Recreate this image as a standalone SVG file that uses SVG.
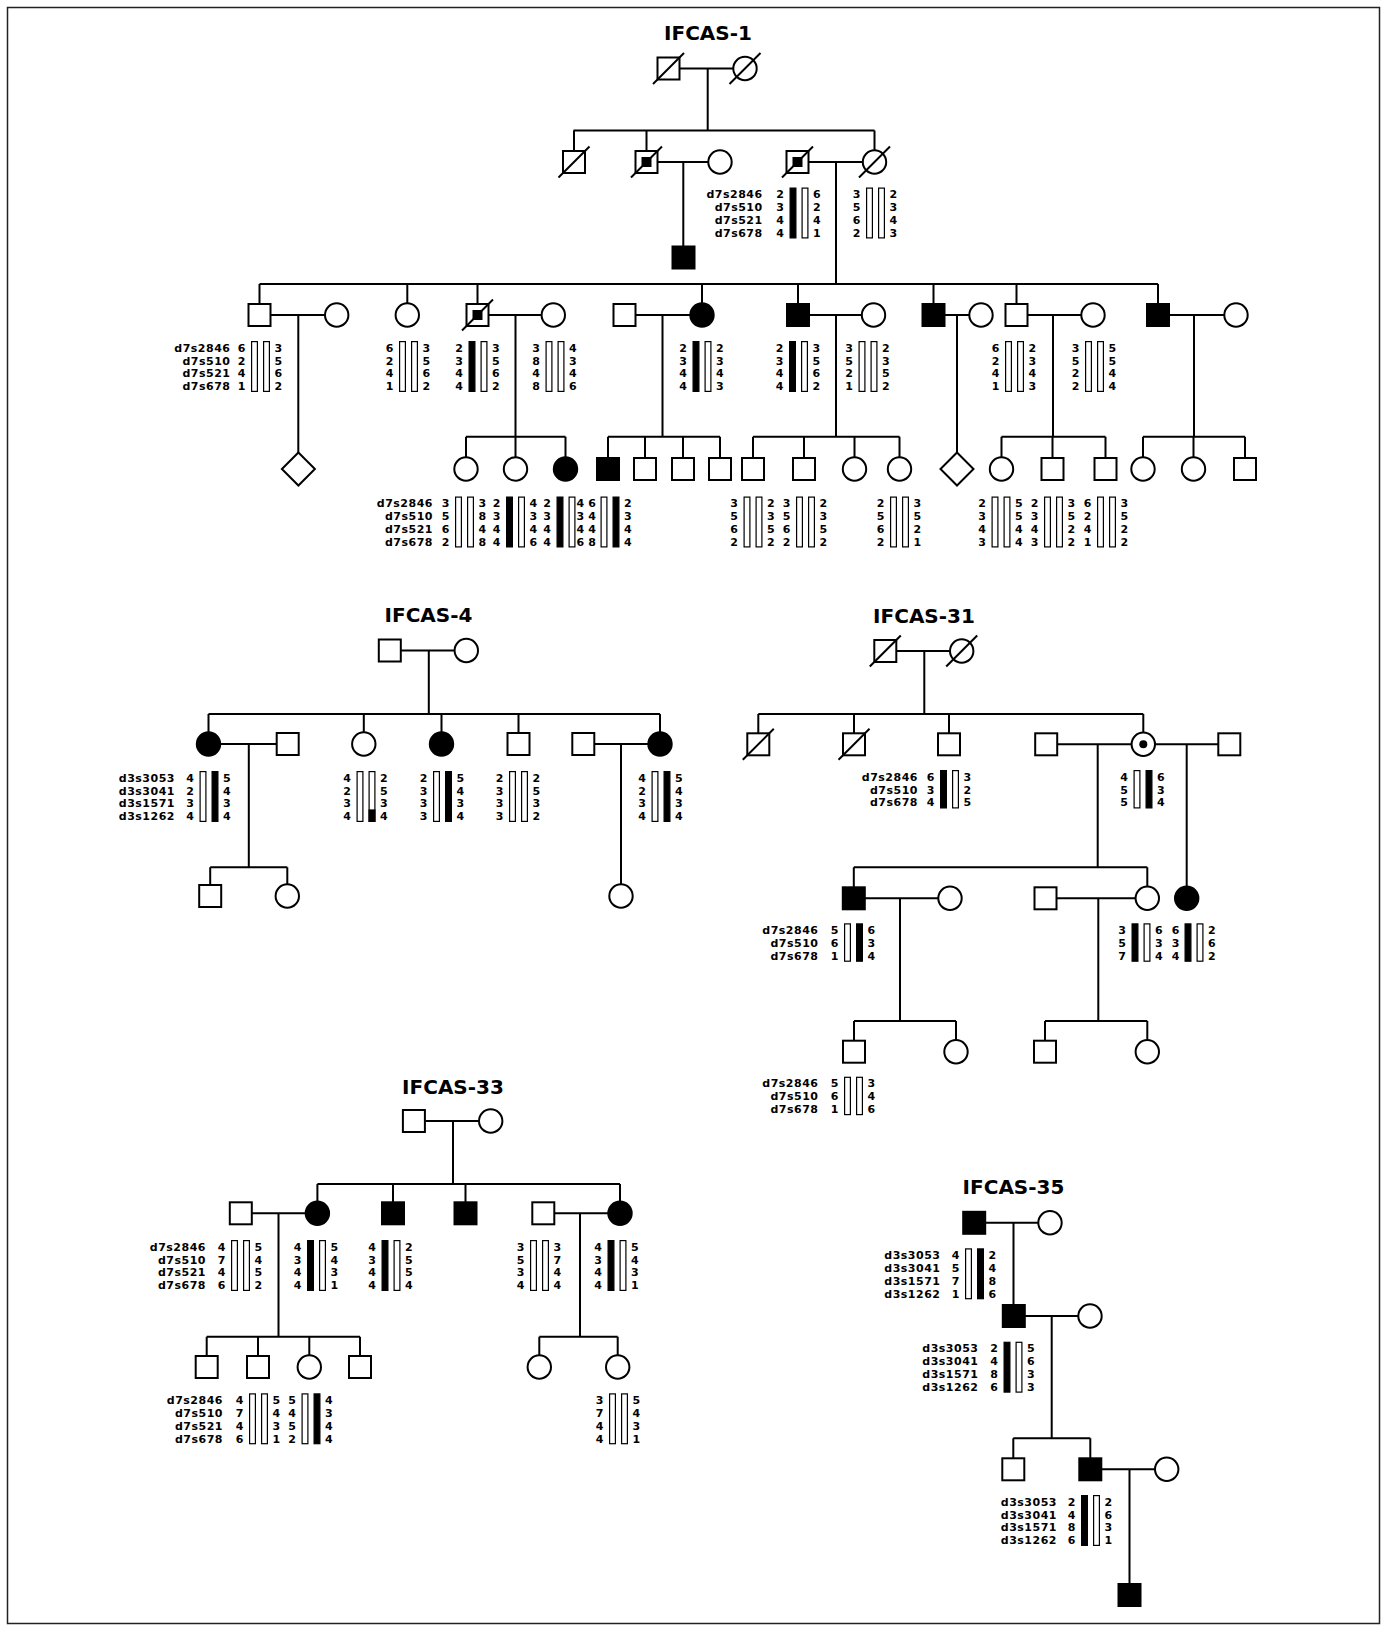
<svg xmlns="http://www.w3.org/2000/svg" width="1387" height="1630" viewBox="0 0 1387 1630">
<style>
.c{fill:none;stroke:#000;stroke-width:2}
.m{fill:#fff;stroke:#000;stroke-width:2}
.a{fill:#000}
.s{stroke:#000;stroke-width:2}
.bw{fill:#fff;stroke:#000;stroke-width:1.2}
.bb{fill:#000;stroke:#000;stroke-width:1.2}
text{font-family:"DejaVu Sans","Liberation Sans",sans-serif;font-weight:700;fill:#000}
.n{font-size:11px}
.e{text-anchor:end}
.lab{font-size:11px;text-anchor:end;letter-spacing:0.5px}
.ttl{font-size:20px;text-anchor:middle}
</style>
<rect x="7.5" y="7.5" width="1372" height="1616" fill="#fff" stroke="#222" stroke-width="1.5"/>

<g id="titles">
<text class="ttl" x="708" y="40">IFCAS-1</text>
<text class="ttl" x="428.5" y="622">IFCAS-4</text>
<text class="ttl" x="924" y="623.3">IFCAS-31</text>
<text class="ttl" x="453" y="1093.5">IFCAS-33</text>
<text class="ttl" x="1013.5" y="1194">IFCAS-35</text>
</g>

<g id="connectors" class="c">
<path d="M668.5 68.5H745M707.7 68.5V130.5M573.5 130.5H874.5M574 130.5V162M646.5 130.5V162M874.5 130.5V162M646.5 162H720M683.3 162V257.5M797.5 162H874.5M836 162V284"/>
<path d="M259.5 284H1158M259.5 284V315M407.3 284V315M477.5 284V315M702 284V315M798 284V315M933.5 284V315M1016.5 284V315M1158 284V315"/>
<path d="M259.5 315H336.7M477.5 315H553.3M624.5 315H702M798 315H873.5M933.5 315H981M1016.5 315H1093M1158 315H1236"/>
<path d="M298.3 315V469M515.5 315V436.7M662.5 315V436.7M836 315V436.7M957 315V469M1053 315V436.7M1194 315V436.7"/>
<path d="M466 436.7H565.5M608 436.7H720M753 436.7H899.5M1001.5 436.7H1105.5M1143 436.7H1245"/>
<path d="M466 436.7V469M515.5 436.7V469M565.5 436.7V469M608 436.7V469M645 436.7V469M683 436.7V469M720 436.7V469M753 436.7V469M804 436.7V469M854.5 436.7V469M899.5 436.7V469M1001.5 436.7V469M1052.5 436.7V469M1105.5 436.7V469M1143 436.7V469M1193.5 436.7V469M1245 436.7V469"/>
<path d="M389.8 650.5H466.3M428.8 650.5V714M208.5 714H660M208.5 714V744M363.8 714V744M441.5 714V744M518.5 714V744M660 714V744M208.5 744H287.7M248.8 744V867.3M210.2 867.3H287.3M210.2 867.3V896M287.3 867.3V896M583.3 744H660M621 744V896"/>
<path d="M885.3 651H961.7M924.3 651V714M758.3 714H1143.3M758.3 714V744.3M854 714V744.3M949 714V744.3M1143.3 714V744.3M1046.2 744.3H1229.3M1097.7 744.3V867.3M1186.7 744.3V898.3M853.8 867.3H1147.3M853.8 867.3V898.3M1147.3 867.3V898.3M853.8 898.3H950M900 898.3V1021M1045.5 898.3H1147.3M1098.3 898.3V1021M854 1021H956M854 1021V1051.7M956 1021V1051.7M1045 1021H1147.3M1045 1021V1051.7M1147.3 1021V1051.7"/>
<path d="M413.9 1121H490.7M453 1121V1184M317.4 1184H620M317.4 1184V1213.3M393 1184V1213.3M465.5 1184V1213.3M620 1184V1213.3M240.8 1213.3H317.4M278.5 1213.3V1336.7M206.7 1336.7H360M206.7 1336.7V1367M258 1336.7V1367M309.3 1336.7V1367M360 1336.7V1367M543.3 1213.3H620M580 1213.3V1336.7M539.3 1336.7H617.7M539.3 1336.7V1367M617.7 1336.7V1367"/>
<path d="M974.2 1222.7H1050M1013.5 1222.7V1316M1013.8 1316H1090M1051.7 1316V1438.3M1013.3 1438.3H1090.3M1013.3 1438.3V1469.3M1090.3 1438.3V1469.3M1090.3 1469.3H1166.7M1129.5 1469.3V1595"/>
</g>

<!-- IFCAS-1 -->
<g id="f1-I1"><rect class="m" x="657.5" y="57.5" width="22" height="22"/><line class="s" x1="653" y1="84" x2="684" y2="53"/></g>
<g id="f1-I2"><circle class="m" cx="745" cy="68.5" r="11.7"/><line class="s" x1="729.5" y1="84" x2="760.5" y2="53"/></g>
<g id="f1-II1"><rect class="m" x="563" y="151" width="22" height="22"/><line class="s" x1="558.5" y1="177.5" x2="589.5" y2="146.5"/></g>
<g id="f1-II2"><rect class="m" x="635.5" y="151" width="22" height="22"/><rect class="a" x="641.5" y="157" width="10" height="10"/><line class="s" x1="631" y1="177.5" x2="662" y2="146.5"/></g>
<g id="f1-II2s"><circle class="m" cx="720" cy="162" r="11.7"/></g>
<g id="f1-II3s"><rect class="m" x="786.5" y="151" width="22" height="22"/><rect class="a" x="792.5" y="157" width="10" height="10"/><line class="s" x1="782" y1="177.5" x2="813" y2="146.5"/>
<g id="hap-f1-II3s">
<text class="lab"><tspan x="762.7" y="198.1">d7s2846</tspan><tspan x="762.7" y="211">d7s510</tspan><tspan x="762.7" y="223.9">d7s521</tspan><tspan x="762.7" y="236.8">d7s678</tspan></text>
<text class="n e"><tspan x="784" y="198.1">2</tspan><tspan x="784" y="211">3</tspan><tspan x="784" y="223.9">4</tspan><tspan x="784" y="236.8">4</tspan></text>
<rect class="bb" x="790.1" y="188.1" width="5.8" height="49.8"/><rect class="bw" x="802.1" y="188.1" width="5.8" height="49.8"/>
<text class="n"><tspan x="813" y="198.1">6</tspan><tspan x="813" y="211">2</tspan><tspan x="813" y="223.9">4</tspan><tspan x="813" y="236.8">1</tspan></text>
</g></g>
<g id="f1-II4"><circle class="m" cx="874.5" cy="162" r="11.7"/><line class="s" x1="859" y1="177.5" x2="890" y2="146.5"/>
<g id="hap-f1-II4">
<text class="n e"><tspan x="860.5" y="198.1">3</tspan><tspan x="860.5" y="211">5</tspan><tspan x="860.5" y="223.9">6</tspan><tspan x="860.5" y="236.8">2</tspan></text>
<rect class="bw" x="866.6" y="188.1" width="5.8" height="49.8"/><rect class="bw" x="878.6" y="188.1" width="5.8" height="49.8"/>
<text class="n"><tspan x="889.5" y="198.1">2</tspan><tspan x="889.5" y="211">3</tspan><tspan x="889.5" y="223.9">4</tspan><tspan x="889.5" y="236.8">3</tspan></text>
</g></g>
<g id="f1-IIIc1"><rect class="m a" x="672.5" y="246.5" width="22" height="22"/></g>

<g id="f1-A"><rect class="m" x="248.5" y="304" width="22" height="22"/>
<text class="lab"><tspan x="230.5" y="351.6">d7s2846</tspan><tspan x="230.5" y="364.5">d7s510</tspan><tspan x="230.5" y="377.4">d7s521</tspan><tspan x="230.5" y="390.3">d7s678</tspan></text>
<text class="n e"><tspan x="245.5" y="351.6">6</tspan><tspan x="245.5" y="364.5">2</tspan><tspan x="245.5" y="377.4">4</tspan><tspan x="245.5" y="390.3">1</tspan></text>
<rect class="bw" x="251.6" y="341.6" width="5.8" height="49.8"/><rect class="bw" x="263.6" y="341.6" width="5.8" height="49.8"/>
<text class="n"><tspan x="274.5" y="351.6">3</tspan><tspan x="274.5" y="364.5">5</tspan><tspan x="274.5" y="377.4">6</tspan><tspan x="274.5" y="390.3">2</tspan></text>
</g>
<g id="f1-B"><circle class="m" cx="336.7" cy="315" r="11.7"/></g>
<g id="f1-C"><circle class="m" cx="407.3" cy="315" r="11.7"/>
<text class="n e"><tspan x="393.5" y="351.6">6</tspan><tspan x="393.5" y="364.5">2</tspan><tspan x="393.5" y="377.4">4</tspan><tspan x="393.5" y="390.3">1</tspan></text>
<rect class="bw" x="399.6" y="341.6" width="5.8" height="49.8"/><rect class="bw" x="411.6" y="341.6" width="5.8" height="49.8"/>
<text class="n"><tspan x="422.5" y="351.6">3</tspan><tspan x="422.5" y="364.5">5</tspan><tspan x="422.5" y="377.4">6</tspan><tspan x="422.5" y="390.3">2</tspan></text>
</g>
<g id="f1-D"><rect class="m" x="466.5" y="304" width="22" height="22"/><rect class="a" x="472.5" y="310" width="10" height="10"/><line class="s" x1="462" y1="330.5" x2="493" y2="299.5"/>
<text class="n e"><tspan x="463" y="351.6">2</tspan><tspan x="463" y="364.5">3</tspan><tspan x="463" y="377.4">4</tspan><tspan x="463" y="390.3">4</tspan></text>
<rect class="bb" x="469.1" y="341.6" width="5.8" height="49.8"/><rect class="bw" x="481.1" y="341.6" width="5.8" height="49.8"/>
<text class="n"><tspan x="492" y="351.6">3</tspan><tspan x="492" y="364.5">5</tspan><tspan x="492" y="377.4">6</tspan><tspan x="492" y="390.3">2</tspan></text>
</g>
<g id="f1-E"><circle class="m" cx="553.3" cy="315" r="11.7"/>
<text class="n e"><tspan x="540" y="351.6">3</tspan><tspan x="540" y="364.5">8</tspan><tspan x="540" y="377.4">4</tspan><tspan x="540" y="390.3">8</tspan></text>
<rect class="bw" x="546.1" y="341.6" width="5.8" height="49.8"/><rect class="bw" x="558.1" y="341.6" width="5.8" height="49.8"/>
<text class="n"><tspan x="569" y="351.6">4</tspan><tspan x="569" y="364.5">3</tspan><tspan x="569" y="377.4">4</tspan><tspan x="569" y="390.3">6</tspan></text>
</g>
<g id="f1-F"><rect class="m" x="613.5" y="304" width="22" height="22"/></g>
<g id="f1-G"><circle class="m a" cx="702" cy="315" r="11.7"/>
<text class="n e"><tspan x="687" y="351.6">2</tspan><tspan x="687" y="364.5">3</tspan><tspan x="687" y="377.4">4</tspan><tspan x="687" y="390.3">4</tspan></text>
<rect class="bb" x="693.1" y="341.6" width="5.8" height="49.8"/><rect class="bw" x="705.1" y="341.6" width="5.8" height="49.8"/>
<text class="n"><tspan x="716" y="351.6">2</tspan><tspan x="716" y="364.5">3</tspan><tspan x="716" y="377.4">4</tspan><tspan x="716" y="390.3">3</tspan></text>
</g>
<g id="f1-H"><rect class="m a" x="787" y="304" width="22" height="22"/>
<text class="n e"><tspan x="783.5" y="351.6">2</tspan><tspan x="783.5" y="364.5">3</tspan><tspan x="783.5" y="377.4">4</tspan><tspan x="783.5" y="390.3">4</tspan></text>
<rect class="bb" x="789.6" y="341.6" width="5.8" height="49.8"/><rect class="bw" x="801.6" y="341.6" width="5.8" height="49.8"/>
<text class="n"><tspan x="812.5" y="351.6">3</tspan><tspan x="812.5" y="364.5">5</tspan><tspan x="812.5" y="377.4">6</tspan><tspan x="812.5" y="390.3">2</tspan></text>
</g>
<g id="f1-I"><circle class="m" cx="873.5" cy="315" r="11.7"/>
<text class="n e"><tspan x="853" y="351.6">3</tspan><tspan x="853" y="364.5">5</tspan><tspan x="853" y="377.4">2</tspan><tspan x="853" y="390.3">1</tspan></text>
<rect class="bw" x="859.1" y="341.6" width="5.8" height="49.8"/><rect class="bw" x="871.1" y="341.6" width="5.8" height="49.8"/>
<text class="n"><tspan x="882" y="351.6">2</tspan><tspan x="882" y="364.5">3</tspan><tspan x="882" y="377.4">5</tspan><tspan x="882" y="390.3">2</tspan></text>
</g>
<g id="f1-J"><rect class="m a" x="922.5" y="304" width="22" height="22"/></g>
<g id="f1-K"><circle class="m" cx="981" cy="315" r="11.7"/></g>
<g id="f1-L"><rect class="m" x="1005.5" y="304" width="22" height="22"/>
<text class="n e"><tspan x="999.5" y="351.6">6</tspan><tspan x="999.5" y="364.5">2</tspan><tspan x="999.5" y="377.4">4</tspan><tspan x="999.5" y="390.3">1</tspan></text>
<rect class="bw" x="1005.6" y="341.6" width="5.8" height="49.8"/><rect class="bw" x="1017.6" y="341.6" width="5.8" height="49.8"/>
<text class="n"><tspan x="1028.5" y="351.6">2</tspan><tspan x="1028.5" y="364.5">3</tspan><tspan x="1028.5" y="377.4">4</tspan><tspan x="1028.5" y="390.3">3</tspan></text>
</g>
<g id="f1-M"><circle class="m" cx="1093" cy="315" r="11.7"/>
<text class="n e"><tspan x="1079.5" y="351.6">3</tspan><tspan x="1079.5" y="364.5">5</tspan><tspan x="1079.5" y="377.4">2</tspan><tspan x="1079.5" y="390.3">2</tspan></text>
<rect class="bw" x="1085.6" y="341.6" width="5.8" height="49.8"/><rect class="bw" x="1097.6" y="341.6" width="5.8" height="49.8"/>
<text class="n"><tspan x="1108.5" y="351.6">5</tspan><tspan x="1108.5" y="364.5">5</tspan><tspan x="1108.5" y="377.4">4</tspan><tspan x="1108.5" y="390.3">4</tspan></text>
</g>
<g id="f1-N"><rect class="m a" x="1147" y="304" width="22" height="22"/></g>
<g id="f1-O"><circle class="m" cx="1236" cy="315" r="11.7"/></g>

<g id="f1-IV1"><polygon class="m" points="298.4,452.5 314.9,469 298.4,485.5 281.9,469"/></g>
<g id="f1-IV2"><circle class="m" cx="466" cy="469" r="11.7"/>
<text class="lab"><tspan x="433" y="507.1">d7s2846</tspan><tspan x="433" y="520">d7s510</tspan><tspan x="433" y="532.9">d7s521</tspan><tspan x="433" y="545.8">d7s678</tspan></text>
<text class="n e"><tspan x="449.5" y="507.1">3</tspan><tspan x="449.5" y="520">5</tspan><tspan x="449.5" y="532.9">6</tspan><tspan x="449.5" y="545.8">2</tspan></text>
<rect class="bw" x="455.6" y="497.1" width="5.8" height="49.8"/><rect class="bw" x="467.6" y="497.1" width="5.8" height="49.8"/>
<text class="n"><tspan x="478.5" y="507.1">3</tspan><tspan x="478.5" y="520">8</tspan><tspan x="478.5" y="532.9">4</tspan><tspan x="478.5" y="545.8">8</tspan></text>
</g>
<g id="f1-IV3"><circle class="m" cx="515.5" cy="469" r="11.7"/>
<text class="n e"><tspan x="500.5" y="507.1">2</tspan><tspan x="500.5" y="520">3</tspan><tspan x="500.5" y="532.9">4</tspan><tspan x="500.5" y="545.8">4</tspan></text>
<rect class="bb" x="506.6" y="497.1" width="5.8" height="49.8"/><rect class="bw" x="518.6" y="497.1" width="5.8" height="49.8"/>
<text class="n"><tspan x="529.5" y="507.1">4</tspan><tspan x="529.5" y="520">3</tspan><tspan x="529.5" y="532.9">4</tspan><tspan x="529.5" y="545.8">6</tspan></text>
</g>
<g id="f1-IV4"><circle class="m a" cx="565.5" cy="469" r="11.7"/>
<text class="n e"><tspan x="551" y="507.1">2</tspan><tspan x="551" y="520">3</tspan><tspan x="551" y="532.9">4</tspan><tspan x="551" y="545.8">4</tspan></text>
<rect class="bb" x="557.1" y="497.1" width="5.8" height="49.8"/><rect class="bw" x="569.1" y="497.1" width="5.8" height="49.8"/>
<text class="n"><tspan x="576.5" y="507.1">4</tspan><tspan x="576.5" y="520">3</tspan><tspan x="576.5" y="532.9">4</tspan><tspan x="576.5" y="545.8">6</tspan></text>
</g>
<g id="f1-IV5"><rect class="m a" x="597" y="458" width="22" height="22"/>
<text class="n e"><tspan x="596" y="507.1">6</tspan><tspan x="596" y="520">4</tspan><tspan x="596" y="532.9">4</tspan><tspan x="596" y="545.8">8</tspan></text>
<rect class="bw" x="601.1" y="497.1" width="5.8" height="49.8"/><rect class="bb" x="613.1" y="497.1" width="5.8" height="49.8"/>
<text class="n"><tspan x="624" y="507.1">2</tspan><tspan x="624" y="520">3</tspan><tspan x="624" y="532.9">4</tspan><tspan x="624" y="545.8">4</tspan></text>
</g>
<g id="f1-IV6"><rect class="m" x="634" y="458" width="22" height="22"/></g>
<g id="f1-IV7"><rect class="m" x="672" y="458" width="22" height="22"/></g>
<g id="f1-IV8"><rect class="m" x="709" y="458" width="22" height="22"/></g>
<g id="f1-IV9"><rect class="m" x="742" y="458" width="22" height="22"/>
<text class="n e"><tspan x="738" y="507.1">3</tspan><tspan x="738" y="520">5</tspan><tspan x="738" y="532.9">6</tspan><tspan x="738" y="545.8">2</tspan></text>
<rect class="bw" x="744.1" y="497.1" width="5.8" height="49.8"/><rect class="bw" x="756.1" y="497.1" width="5.8" height="49.8"/>
<text class="n"><tspan x="767" y="507.1">2</tspan><tspan x="767" y="520">3</tspan><tspan x="767" y="532.9">5</tspan><tspan x="767" y="545.8">2</tspan></text>
</g>
<g id="f1-IV10"><rect class="m" x="793" y="458" width="22" height="22"/>
<text class="n e"><tspan x="790.5" y="507.1">3</tspan><tspan x="790.5" y="520">5</tspan><tspan x="790.5" y="532.9">6</tspan><tspan x="790.5" y="545.8">2</tspan></text>
<rect class="bw" x="796.6" y="497.1" width="5.8" height="49.8"/><rect class="bw" x="808.6" y="497.1" width="5.8" height="49.8"/>
<text class="n"><tspan x="819.5" y="507.1">2</tspan><tspan x="819.5" y="520">3</tspan><tspan x="819.5" y="532.9">5</tspan><tspan x="819.5" y="545.8">2</tspan></text>
</g>
<g id="f1-IV11"><circle class="m" cx="854.5" cy="469" r="11.7"/></g>
<g id="f1-IV12"><circle class="m" cx="899.5" cy="469" r="11.7"/>
<text class="n e"><tspan x="884.5" y="507.1">2</tspan><tspan x="884.5" y="520">5</tspan><tspan x="884.5" y="532.9">6</tspan><tspan x="884.5" y="545.8">2</tspan></text>
<rect class="bw" x="890.6" y="497.1" width="5.8" height="49.8"/><rect class="bw" x="902.6" y="497.1" width="5.8" height="49.8"/>
<text class="n"><tspan x="913.5" y="507.1">3</tspan><tspan x="913.5" y="520">5</tspan><tspan x="913.5" y="532.9">2</tspan><tspan x="913.5" y="545.8">1</tspan></text>
</g>
<g id="f1-IV13"><polygon class="m" points="957,452.5 973.5,469 957,485.5 940.5,469"/></g>
<g id="f1-IV14"><circle class="m" cx="1001.5" cy="469" r="11.7"/>
<text class="n e"><tspan x="986" y="507.1">2</tspan><tspan x="986" y="520">3</tspan><tspan x="986" y="532.9">4</tspan><tspan x="986" y="545.8">3</tspan></text>
<rect class="bw" x="992.1" y="497.1" width="5.8" height="49.8"/><rect class="bw" x="1004.1" y="497.1" width="5.8" height="49.8"/>
<text class="n"><tspan x="1015" y="507.1">5</tspan><tspan x="1015" y="520">5</tspan><tspan x="1015" y="532.9">4</tspan><tspan x="1015" y="545.8">4</tspan></text>
</g>
<g id="f1-IV15"><rect class="m" x="1041.5" y="458" width="22" height="22"/>
<text class="n e"><tspan x="1038.5" y="507.1">2</tspan><tspan x="1038.5" y="520">3</tspan><tspan x="1038.5" y="532.9">4</tspan><tspan x="1038.5" y="545.8">3</tspan></text>
<rect class="bw" x="1044.6" y="497.1" width="5.8" height="49.8"/><rect class="bw" x="1056.6" y="497.1" width="5.8" height="49.8"/>
<text class="n"><tspan x="1067.5" y="507.1">3</tspan><tspan x="1067.5" y="520">5</tspan><tspan x="1067.5" y="532.9">2</tspan><tspan x="1067.5" y="545.8">2</tspan></text>
</g>
<g id="f1-IV16"><rect class="m" x="1094.5" y="458" width="22" height="22"/>
<text class="n e"><tspan x="1091.5" y="507.1">6</tspan><tspan x="1091.5" y="520">2</tspan><tspan x="1091.5" y="532.9">4</tspan><tspan x="1091.5" y="545.8">1</tspan></text>
<rect class="bw" x="1097.6" y="497.1" width="5.8" height="49.8"/><rect class="bw" x="1109.6" y="497.1" width="5.8" height="49.8"/>
<text class="n"><tspan x="1120.5" y="507.1">3</tspan><tspan x="1120.5" y="520">5</tspan><tspan x="1120.5" y="532.9">2</tspan><tspan x="1120.5" y="545.8">2</tspan></text>
</g>
<g id="f1-IV17"><circle class="m" cx="1143" cy="469" r="11.7"/></g>
<g id="f1-IV18"><circle class="m" cx="1193.5" cy="469" r="11.7"/></g>
<g id="f1-IV19"><rect class="m" x="1234" y="458" width="22" height="22"/></g>

<!-- IFCAS-4 -->
<g id="f4-I1"><rect class="m" x="378.8" y="639.5" width="22" height="22"/></g>
<g id="f4-I2"><circle class="m" cx="466.3" cy="650.5" r="11.7"/></g>
<g id="f4-II1"><circle class="m a" cx="208.5" cy="744" r="11.7"/>
<text class="lab"><tspan x="175" y="781.6">d3s3053</tspan><tspan x="175" y="794.5">d3s3041</tspan><tspan x="175" y="807.4">d3s1571</tspan><tspan x="175" y="820.3">d3s1262</tspan></text>
<text class="n e"><tspan x="194" y="781.6">4</tspan><tspan x="194" y="794.5">2</tspan><tspan x="194" y="807.4">3</tspan><tspan x="194" y="820.3">4</tspan></text>
<rect class="bw" x="200.1" y="771.6" width="5.8" height="49.8"/><rect class="bb" x="212.1" y="771.6" width="5.8" height="49.8"/>
<text class="n"><tspan x="223" y="781.6">5</tspan><tspan x="223" y="794.5">4</tspan><tspan x="223" y="807.4">3</tspan><tspan x="223" y="820.3">4</tspan></text>
</g>
<g id="f4-II1s"><rect class="m" x="276.7" y="733" width="22" height="22"/></g>
<g id="f4-II2"><circle class="m" cx="363.8" cy="744" r="11.7"/>
<text class="n e"><tspan x="351" y="781.6">4</tspan><tspan x="351" y="794.5">2</tspan><tspan x="351" y="807.4">3</tspan><tspan x="351" y="820.3">4</tspan></text>
<rect class="bw" x="357.1" y="771.6" width="5.8" height="49.8"/><rect class="bw" x="369.1" y="771.6" width="5.8" height="49.8"/><rect class="bb" x="369.1" y="810" width="5.8" height="11.4"/>
<text class="n"><tspan x="380" y="781.6">2</tspan><tspan x="380" y="794.5">5</tspan><tspan x="380" y="807.4">3</tspan><tspan x="380" y="820.3">4</tspan></text>
</g>
<g id="f4-II3"><circle class="m a" cx="441.5" cy="744" r="11.7"/>
<text class="n e"><tspan x="427.5" y="781.6">2</tspan><tspan x="427.5" y="794.5">3</tspan><tspan x="427.5" y="807.4">3</tspan><tspan x="427.5" y="820.3">3</tspan></text>
<rect class="bw" x="433.6" y="771.6" width="5.8" height="49.8"/><rect class="bb" x="445.6" y="771.6" width="5.8" height="49.8"/>
<text class="n"><tspan x="456.5" y="781.6">5</tspan><tspan x="456.5" y="794.5">4</tspan><tspan x="456.5" y="807.4">3</tspan><tspan x="456.5" y="820.3">4</tspan></text>
</g>
<g id="f4-II4"><rect class="m" x="507.5" y="733" width="22" height="22"/>
<text class="n e"><tspan x="503.5" y="781.6">2</tspan><tspan x="503.5" y="794.5">3</tspan><tspan x="503.5" y="807.4">3</tspan><tspan x="503.5" y="820.3">3</tspan></text>
<rect class="bw" x="509.6" y="771.6" width="5.8" height="49.8"/><rect class="bw" x="521.6" y="771.6" width="5.8" height="49.8"/>
<text class="n"><tspan x="532.5" y="781.6">2</tspan><tspan x="532.5" y="794.5">5</tspan><tspan x="532.5" y="807.4">3</tspan><tspan x="532.5" y="820.3">2</tspan></text>
</g>
<g id="f4-II5s"><rect class="m" x="572.3" y="733" width="22" height="22"/></g>
<g id="f4-II5"><circle class="m a" cx="660" cy="744" r="11.7"/>
<text class="n e"><tspan x="646" y="781.6">4</tspan><tspan x="646" y="794.5">2</tspan><tspan x="646" y="807.4">3</tspan><tspan x="646" y="820.3">4</tspan></text>
<rect class="bw" x="652.1" y="771.6" width="5.8" height="49.8"/><rect class="bb" x="664.1" y="771.6" width="5.8" height="49.8"/>
<text class="n"><tspan x="675" y="781.6">5</tspan><tspan x="675" y="794.5">4</tspan><tspan x="675" y="807.4">3</tspan><tspan x="675" y="820.3">4</tspan></text>
</g>
<g id="f4-III1"><rect class="m" x="199.2" y="885" width="22" height="22"/></g>
<g id="f4-III2"><circle class="m" cx="287.3" cy="896" r="11.7"/></g>
<g id="f4-III3"><circle class="m" cx="621" cy="896" r="11.7"/></g>

<!-- IFCAS-31 -->
<g id="f31-I1"><rect class="m" x="874.3" y="640" width="22" height="22"/><line class="s" x1="869.8" y1="666.5" x2="900.8" y2="635.5"/></g>
<g id="f31-I2"><circle class="m" cx="961.7" cy="651" r="11.7"/><line class="s" x1="946.2" y1="666.5" x2="977.2" y2="635.5"/></g>
<g id="f31-II1"><rect class="m" x="747.3" y="733.3" width="22" height="22"/><line class="s" x1="742.8" y1="759.8" x2="773.8" y2="728.8"/></g>
<g id="f31-II2"><rect class="m" x="843" y="733.3" width="22" height="22"/><line class="s" x1="838.5" y1="759.8" x2="869.5" y2="728.8"/></g>
<g id="f31-II3"><rect class="m" x="938" y="733.3" width="22" height="22"/>
<text class="lab"><tspan x="918" y="780.6">d7s2846</tspan><tspan x="918" y="793.5">d7s510</tspan><tspan x="918" y="806.4">d7s678</tspan></text>
<text class="n e"><tspan x="934.5" y="780.6">6</tspan><tspan x="934.5" y="793.5">3</tspan><tspan x="934.5" y="806.4">4</tspan></text>
<rect class="bb" x="940.6" y="770.6" width="5.8" height="37.3"/><rect class="bw" x="952.6" y="770.6" width="5.8" height="37.3"/>
<text class="n"><tspan x="963.5" y="780.6">3</tspan><tspan x="963.5" y="793.5">2</tspan><tspan x="963.5" y="806.4">5</tspan></text>
</g>
<g id="f31-II4s"><rect class="m" x="1035.2" y="733.3" width="22" height="22"/></g>
<g id="f31-II4"><circle class="m" cx="1143.3" cy="744.3" r="11.7"/><circle class="a" cx="1143.3" cy="744.3" r="4"/>
<text class="n e"><tspan x="1128" y="780.6">4</tspan><tspan x="1128" y="793.5">5</tspan><tspan x="1128" y="806.4">5</tspan></text>
<rect class="bw" x="1134.1" y="770.6" width="5.8" height="37.3"/><rect class="bb" x="1146.1" y="770.6" width="5.8" height="37.3"/>
<text class="n"><tspan x="1157" y="780.6">6</tspan><tspan x="1157" y="793.5">3</tspan><tspan x="1157" y="806.4">4</tspan></text>
</g>
<g id="f31-II4s2"><rect class="m" x="1218.3" y="733.3" width="22" height="22"/></g>
<g id="f31-III1"><rect class="m a" x="842.8" y="887.3" width="22" height="22"/>
<text class="lab"><tspan x="818.5" y="933.9">d7s2846</tspan><tspan x="818.5" y="946.8">d7s510</tspan><tspan x="818.5" y="959.7">d7s678</tspan></text>
<text class="n e"><tspan x="838.5" y="933.9">5</tspan><tspan x="838.5" y="946.8">6</tspan><tspan x="838.5" y="959.7">1</tspan></text>
<rect class="bw" x="844.6" y="923.9" width="5.8" height="37.3"/><rect class="bb" x="856.6" y="923.9" width="5.8" height="37.3"/>
<text class="n"><tspan x="867.5" y="933.9">6</tspan><tspan x="867.5" y="946.8">3</tspan><tspan x="867.5" y="959.7">4</tspan></text>
</g>
<g id="f31-III1s"><circle class="m" cx="950" cy="898.3" r="11.7"/></g>
<g id="f31-III2s"><rect class="m" x="1034.5" y="887.3" width="22" height="22"/></g>
<g id="f31-III2"><circle class="m" cx="1147.3" cy="898.3" r="11.7"/>
<text class="n e"><tspan x="1126" y="933.9">3</tspan><tspan x="1126" y="946.8">5</tspan><tspan x="1126" y="959.7">7</tspan></text>
<rect class="bb" x="1132.1" y="923.9" width="5.8" height="37.3"/><rect class="bw" x="1144.1" y="923.9" width="5.8" height="37.3"/>
<text class="n"><tspan x="1155" y="933.9">6</tspan><tspan x="1155" y="946.8">3</tspan><tspan x="1155" y="959.7">4</tspan></text>
</g>
<g id="f31-III3"><circle class="m a" cx="1186.7" cy="898.3" r="11.7"/>
<text class="n e"><tspan x="1179.5" y="933.9">6</tspan><tspan x="1179.5" y="946.8">3</tspan><tspan x="1179.5" y="959.7">4</tspan></text>
<rect class="bb" x="1185.1" y="923.9" width="5.8" height="37.3"/><rect class="bw" x="1197.1" y="923.9" width="5.8" height="37.3"/>
<text class="n"><tspan x="1208" y="933.9">2</tspan><tspan x="1208" y="946.8">6</tspan><tspan x="1208" y="959.7">2</tspan></text>
</g>
<g id="f31-IV1"><rect class="m" x="843" y="1040.7" width="22" height="22"/>
<text class="lab"><tspan x="818.5" y="1087.3">d7s2846</tspan><tspan x="818.5" y="1100.2">d7s510</tspan><tspan x="818.5" y="1113.1">d7s678</tspan></text>
<text class="n e"><tspan x="838.5" y="1087.3">5</tspan><tspan x="838.5" y="1100.2">6</tspan><tspan x="838.5" y="1113.1">1</tspan></text>
<rect class="bw" x="844.6" y="1077.3" width="5.8" height="37.3"/><rect class="bw" x="856.6" y="1077.3" width="5.8" height="37.3"/>
<text class="n"><tspan x="867.5" y="1087.3">3</tspan><tspan x="867.5" y="1100.2">4</tspan><tspan x="867.5" y="1113.1">6</tspan></text>
</g>
<g id="f31-IV2"><circle class="m" cx="956" cy="1051.7" r="11.7"/></g>
<g id="f31-IV3"><rect class="m" x="1034" y="1040.7" width="22" height="22"/></g>
<g id="f31-IV4"><circle class="m" cx="1147.3" cy="1051.7" r="11.7"/></g>

<!-- IFCAS-33 -->
<g id="f33-I1"><rect class="m" x="402.9" y="1110" width="22" height="22"/></g>
<g id="f33-I2"><circle class="m" cx="490.7" cy="1121" r="11.7"/></g>
<g id="f33-II1s"><rect class="m" x="229.8" y="1202.3" width="22" height="22"/>
<text class="lab"><tspan x="206" y="1250.6">d7s2846</tspan><tspan x="206" y="1263.5">d7s510</tspan><tspan x="206" y="1276.4">d7s521</tspan><tspan x="206" y="1289.3">d7s678</tspan></text>
<text class="n e"><tspan x="225.5" y="1250.6">4</tspan><tspan x="225.5" y="1263.5">7</tspan><tspan x="225.5" y="1276.4">4</tspan><tspan x="225.5" y="1289.3">6</tspan></text>
<rect class="bw" x="231.6" y="1240.6" width="5.8" height="49.8"/><rect class="bw" x="243.6" y="1240.6" width="5.8" height="49.8"/>
<text class="n"><tspan x="254.5" y="1250.6">5</tspan><tspan x="254.5" y="1263.5">4</tspan><tspan x="254.5" y="1276.4">5</tspan><tspan x="254.5" y="1289.3">2</tspan></text>
</g>
<g id="f33-II1"><circle class="m a" cx="317.4" cy="1213.3" r="11.7"/>
<text class="n e"><tspan x="301.5" y="1250.6">4</tspan><tspan x="301.5" y="1263.5">3</tspan><tspan x="301.5" y="1276.4">4</tspan><tspan x="301.5" y="1289.3">4</tspan></text>
<rect class="bb" x="307.6" y="1240.6" width="5.8" height="49.8"/><rect class="bw" x="319.6" y="1240.6" width="5.8" height="49.8"/>
<text class="n"><tspan x="330.5" y="1250.6">5</tspan><tspan x="330.5" y="1263.5">4</tspan><tspan x="330.5" y="1276.4">3</tspan><tspan x="330.5" y="1289.3">1</tspan></text>
</g>
<g id="f33-II2"><rect class="m a" x="382" y="1202.3" width="22" height="22"/>
<text class="n e"><tspan x="376" y="1250.6">4</tspan><tspan x="376" y="1263.5">3</tspan><tspan x="376" y="1276.4">4</tspan><tspan x="376" y="1289.3">4</tspan></text>
<rect class="bb" x="382.1" y="1240.6" width="5.8" height="49.8"/><rect class="bw" x="394.1" y="1240.6" width="5.8" height="49.8"/>
<text class="n"><tspan x="405" y="1250.6">2</tspan><tspan x="405" y="1263.5">5</tspan><tspan x="405" y="1276.4">5</tspan><tspan x="405" y="1289.3">4</tspan></text>
</g>
<g id="f33-II3"><rect class="m a" x="454.5" y="1202.3" width="22" height="22"/></g>
<g id="f33-II4s"><rect class="m" x="532.3" y="1202.3" width="22" height="22"/>
<text class="n e"><tspan x="524.5" y="1250.6">3</tspan><tspan x="524.5" y="1263.5">5</tspan><tspan x="524.5" y="1276.4">3</tspan><tspan x="524.5" y="1289.3">4</tspan></text>
<rect class="bw" x="530.6" y="1240.6" width="5.8" height="49.8"/><rect class="bw" x="542.6" y="1240.6" width="5.8" height="49.8"/>
<text class="n"><tspan x="553.5" y="1250.6">3</tspan><tspan x="553.5" y="1263.5">7</tspan><tspan x="553.5" y="1276.4">4</tspan><tspan x="553.5" y="1289.3">4</tspan></text>
</g>
<g id="f33-II4"><circle class="m a" cx="620" cy="1213.3" r="11.7"/>
<text class="n e"><tspan x="602" y="1250.6">4</tspan><tspan x="602" y="1263.5">3</tspan><tspan x="602" y="1276.4">4</tspan><tspan x="602" y="1289.3">4</tspan></text>
<rect class="bb" x="608.1" y="1240.6" width="5.8" height="49.8"/><rect class="bw" x="620.1" y="1240.6" width="5.8" height="49.8"/>
<text class="n"><tspan x="631" y="1250.6">5</tspan><tspan x="631" y="1263.5">4</tspan><tspan x="631" y="1276.4">3</tspan><tspan x="631" y="1289.3">1</tspan></text>
</g>
<g id="f33-III1"><rect class="m" x="195.7" y="1356" width="22" height="22"/></g>
<g id="f33-III2"><rect class="m" x="247" y="1356" width="22" height="22"/>
<text class="lab"><tspan x="223" y="1403.9">d7s2846</tspan><tspan x="223" y="1416.8">d7s510</tspan><tspan x="223" y="1429.7">d7s521</tspan><tspan x="223" y="1442.6">d7s678</tspan></text>
<text class="n e"><tspan x="243.5" y="1403.9">4</tspan><tspan x="243.5" y="1416.8">7</tspan><tspan x="243.5" y="1429.7">4</tspan><tspan x="243.5" y="1442.6">6</tspan></text>
<rect class="bw" x="249.6" y="1393.9" width="5.8" height="49.8"/><rect class="bw" x="261.6" y="1393.9" width="5.8" height="49.8"/>
<text class="n"><tspan x="272.5" y="1403.9">5</tspan><tspan x="272.5" y="1416.8">4</tspan><tspan x="272.5" y="1429.7">3</tspan><tspan x="272.5" y="1442.6">1</tspan></text>
</g>
<g id="f33-III3"><circle class="m" cx="309.3" cy="1367" r="11.7"/>
<text class="n e"><tspan x="296" y="1403.9">5</tspan><tspan x="296" y="1416.8">4</tspan><tspan x="296" y="1429.7">5</tspan><tspan x="296" y="1442.6">2</tspan></text>
<rect class="bw" x="302.1" y="1393.9" width="5.8" height="49.8"/><rect class="bb" x="314.1" y="1393.9" width="5.8" height="49.8"/>
<text class="n"><tspan x="325" y="1403.9">4</tspan><tspan x="325" y="1416.8">3</tspan><tspan x="325" y="1429.7">4</tspan><tspan x="325" y="1442.6">4</tspan></text>
</g>
<g id="f33-III4"><rect class="m" x="349" y="1356" width="22" height="22"/></g>
<g id="f33-III5"><circle class="m" cx="539.3" cy="1367" r="11.7"/></g>
<g id="f33-III6"><circle class="m" cx="617.7" cy="1367" r="11.7"/>
<text class="n e"><tspan x="603.5" y="1403.9">3</tspan><tspan x="603.5" y="1416.8">7</tspan><tspan x="603.5" y="1429.7">4</tspan><tspan x="603.5" y="1442.6">4</tspan></text>
<rect class="bw" x="609.6" y="1393.9" width="5.8" height="49.8"/><rect class="bw" x="621.6" y="1393.9" width="5.8" height="49.8"/>
<text class="n"><tspan x="632.5" y="1403.9">5</tspan><tspan x="632.5" y="1416.8">4</tspan><tspan x="632.5" y="1429.7">3</tspan><tspan x="632.5" y="1442.6">1</tspan></text>
</g>

<!-- IFCAS-35 -->
<g id="f35-I1"><rect class="m a" x="963.2" y="1211.8" width="22" height="22"/>
<text class="lab"><tspan x="940.5" y="1258.9">d3s3053</tspan><tspan x="940.5" y="1271.8">d3s3041</tspan><tspan x="940.5" y="1284.7">d3s1571</tspan><tspan x="940.5" y="1297.6">d3s1262</tspan></text>
<text class="n e"><tspan x="959.5" y="1258.9">4</tspan><tspan x="959.5" y="1271.8">5</tspan><tspan x="959.5" y="1284.7">7</tspan><tspan x="959.5" y="1297.6">1</tspan></text>
<rect class="bw" x="965.6" y="1248.9" width="5.8" height="49.8"/><rect class="bb" x="977.6" y="1248.9" width="5.8" height="49.8"/>
<text class="n"><tspan x="988.5" y="1258.9">2</tspan><tspan x="988.5" y="1271.8">4</tspan><tspan x="988.5" y="1284.7">8</tspan><tspan x="988.5" y="1297.6">6</tspan></text>
</g>
<g id="f35-I2"><circle class="m" cx="1050" cy="1222.7" r="11.7"/></g>
<g id="f35-II1"><rect class="m a" x="1002.8" y="1305" width="22" height="22"/>
<text class="lab"><tspan x="978.5" y="1352.3">d3s3053</tspan><tspan x="978.5" y="1365.2">d3s3041</tspan><tspan x="978.5" y="1378.1">d3s1571</tspan><tspan x="978.5" y="1391">d3s1262</tspan></text>
<text class="n e"><tspan x="998" y="1352.3">2</tspan><tspan x="998" y="1365.2">4</tspan><tspan x="998" y="1378.1">8</tspan><tspan x="998" y="1391">6</tspan></text>
<rect class="bb" x="1004.1" y="1342.3" width="5.8" height="49.8"/><rect class="bw" x="1016.1" y="1342.3" width="5.8" height="49.8"/>
<text class="n"><tspan x="1027" y="1352.3">5</tspan><tspan x="1027" y="1365.2">6</tspan><tspan x="1027" y="1378.1">3</tspan><tspan x="1027" y="1391">3</tspan></text>
</g>
<g id="f35-II2"><circle class="m" cx="1090" cy="1316" r="11.7"/></g>
<g id="f35-III1"><rect class="m" x="1002.3" y="1458.3" width="22" height="22"/></g>
<g id="f35-III2"><rect class="m a" x="1079.3" y="1458.3" width="22" height="22"/>
<text class="lab"><tspan x="1057" y="1505.6">d3s3053</tspan><tspan x="1057" y="1518.5">d3s3041</tspan><tspan x="1057" y="1531.4">d3s1571</tspan><tspan x="1057" y="1544.3">d3s1262</tspan></text>
<text class="n e"><tspan x="1075.5" y="1505.6">2</tspan><tspan x="1075.5" y="1518.5">4</tspan><tspan x="1075.5" y="1531.4">8</tspan><tspan x="1075.5" y="1544.3">6</tspan></text>
<rect class="bb" x="1081.6" y="1495.6" width="5.8" height="49.8"/><rect class="bw" x="1093.6" y="1495.6" width="5.8" height="49.8"/>
<text class="n"><tspan x="1104.5" y="1505.6">2</tspan><tspan x="1104.5" y="1518.5">6</tspan><tspan x="1104.5" y="1531.4">3</tspan><tspan x="1104.5" y="1544.3">1</tspan></text>
</g>
<g id="f35-III3"><circle class="m" cx="1166.7" cy="1469.3" r="11.7"/></g>
<g id="f35-IV1"><rect class="m a" x="1118.5" y="1584" width="22" height="22"/></g>
</svg>
